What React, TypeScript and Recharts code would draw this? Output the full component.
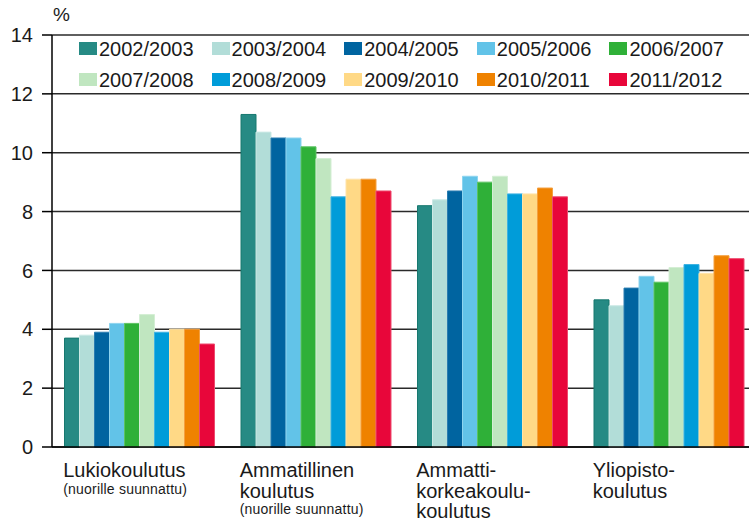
import React from 'react';
import { BarChart, Bar, XAxis, YAxis, CartesianGrid } from 'recharts';

const categories = ['Lukiokoulutus', 'Ammatillinen koulutus', 'Ammattikorkeakoulukoulutus', 'Yliopistokoulutus'];
const categoryLines = [['Lukiokoulutus'], ['Ammatillinen', 'koulutus'], ['Ammatti-', 'korkeakoulu-', 'koulutus'], ['Yliopisto-', 'koulutus']];
const categoryNotes = ['(nuorille suunnattu)', '(nuorille suunnattu)', '', ''];

const years = [
  '2002/2003', '2003/2004', '2004/2005', '2005/2006', '2006/2007',
  '2007/2008', '2008/2009', '2009/2010', '2010/2011', '2011/2012',
];
const colors = ['#268a84', '#b2ddd8', '#0064a0', '#62c3e8', '#2fb038', '#c0e6c0', '#009cd9', '#ffd986', '#ef8200', '#e8063a'];
const borders = ['#17786f', '#cbe9e5', '#2a7cb0', '#8dd4ef', '#5cc263', '#d4eed4', '#3db2e2', '#ffe3a8', '#f4a040', '#ee4a6e'];

const v2002 = [3.7, 11.3, 8.2, 5.0];
const v2003 = [3.8, 10.7, 8.4, 4.8];
const v2004 = [3.9, 10.5, 8.7, 5.4];
const v2005 = [4.2, 10.5, 9.2, 5.8];
const v2006 = [4.2, 10.2, 9.0, 5.6];
const v2007 = [4.5, 9.8, 9.2, 6.1];
const v2008 = [3.9, 8.5, 8.6, 6.2];
const v2009 = [4.0, 9.1, 8.6, 5.9];
const v2010 = [4.0, 9.1, 8.8, 6.5];
const v2011 = [3.5, 8.7, 8.5, 6.4];
const seriesValues = [v2002, v2003, v2004, v2005, v2006, v2007, v2008, v2009, v2010, v2011];

const yTicks = [0, 2, 4, 6, 8, 10, 12, 14];

const data = categories.map((name, i) => {
  const row: Record<string, string | number> = { name, idx: i };
  years.forEach((y, s) => {
    row[y] = seriesValues[s][i];
  });
  return row;
});

const FONT = '"Liberation Sans", Arial, sans-serif';

const CategoryTick = (props: any) => {
  const { x, y, index } = props;
  const lines = categoryLines[index] || [];
  const note = categoryNotes[index];
  const left = x - 77;
  return (
    <g>
      {lines.map((t, i) => (
        <text key={i} x={left} y={y + 30 + i * 20.5} fontSize={20} fill="#1a1a1a" fontFamily={FONT}>
          {t}
        </text>
      ))}
      {note ? (
        <text x={left} y={y + 26 + lines.length * 20.5} fontSize={14} fill="#1a1a1a" fontFamily={FONT} letterSpacing={0.2}>
          {note}
        </text>
      ) : null}
    </g>
  );
};

const LegendBox = () => (
  <div
    style={{
      position: 'absolute',
      left: 79,
      top: 34,
      display: 'grid',
      gridTemplateColumns: 'repeat(5, 132.6px)',
      fontFamily: FONT,
      fontSize: 20,
      color: '#1a1a1a',
    }}
  >
    {years.map((y, i) => (
      <div key={y} style={{ display: 'flex', alignItems: 'center', height: 31, whiteSpace: 'nowrap' }}>
        <span style={{ display: 'inline-block', width: 18, height: 13, background: colors[i], marginRight: 2, marginTop: -3 }} />
        <span>{y}</span>
      </div>
    ))}
  </div>
);

export default function App() {
  return (
    <div style={{ position: 'fixed', left: 0, top: 0, width: 749, height: 524, overflow: 'hidden', background: '#fff' }}>
      <div style={{ position: 'absolute', left: 53, top: 4, fontFamily: FONT, fontSize: 19, color: '#1a1a1a' }}>%</div>
      <BarChart
        width={770}
        height={524}
        data={data}
        margin={{ top: 35, right: 12, left: 0, bottom: 0 }}
        barCategoryGap={12.5}
        barGap={0}
      >
        <CartesianGrid horizontal vertical={false} stroke="#2a2a2a" strokeWidth={1.5} />
        <XAxis
          dataKey="name"
          height={77}
          tickLine={false}
          tickSize={0}
          tickMargin={0}
          axisLine={{ stroke: '#000', strokeWidth: 1.5 }}
          tick={<CategoryTick />}
          interval={0}
        />
        <YAxis
          width={52}
          domain={[0, 14]}
          ticks={yTicks}
          interval={0}
          tickSize={10}
          tickMargin={9}
          axisLine={{ stroke: '#000', strokeWidth: 1.5 }}
          tickLine={{ stroke: '#000', strokeWidth: 1.5 }}
          tick={{ fontSize: 20, fill: '#1a1a1a', fontFamily: FONT }}
        />
        {years.map((y, i) => (
          <Bar key={y} dataKey={y} fill={colors[i]} stroke={borders[i]} strokeWidth={1} isAnimationActive={false} />
        ))}
      </BarChart>
      <LegendBox />
    </div>
  );
}
